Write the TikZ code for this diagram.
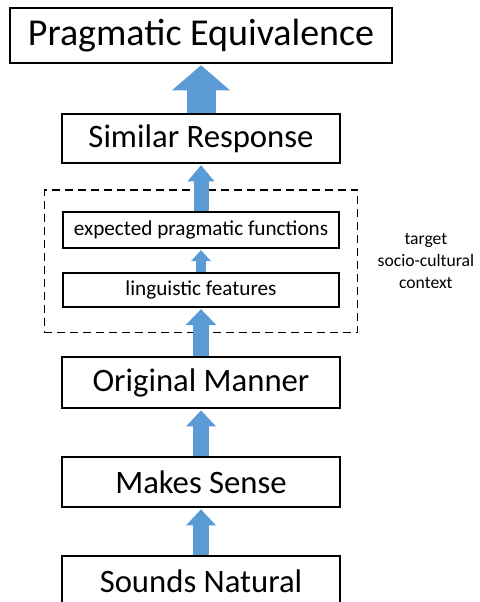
\documentclass[tikz,border=0pt]{standalone}
\usepackage{fontspec}
\setmainfont{Carlito}
\usetikzlibrary{positioning, arrows.meta, fit}
\definecolor{arrowblue}{RGB}{91,155,213}
\tikzset{
    x=1pt, y=1pt, % one unit is one point
    box/.style={draw, line width=1.8pt, minimum width=278pt, inner sep=0pt, font=\fontsize{32.7}{38}\selectfont}, % the big boxes
    smallbox/.style={draw, line width=1.5pt, minimum width=276pt, inner sep=0pt, font=\fontsize{21.2}{25}\selectfont}, % boxes inside the dashed frame
    dashbox/.style={draw, dashed, dash pattern=on 8pt off 5pt, line width=1.4pt, inner xsep=18pt, inner ysep=23pt}, % the dashed frame
    blockarrow/.style n args={3}{draw=arrowblue, line width=#1, -{Triangle[length=#3, width=#2, line width=0pt, fill=arrowblue]}, shorten >=1.5pt}, % shaft width, head width, head length
}

\begin{document}
\begin{tikzpicture}
    \useasboundingbox (0,0) rectangle (479,602);
    \node[box, minimum height=50pt] (sn) at (201,21) {Sounds Natural};
    \node[box, minimum height=50pt, above=47.2pt of sn] (ms) {Makes Sense};
    \node[box, minimum height=51pt, above=47.2pt of ms] (om) {Original Manner};
    \node[smallbox, minimum height=34pt, above=48.4pt of om] (lf) {linguistic features};
    \node[smallbox, minimum height=36pt, above=23.5pt of lf] (epf) {expected pragmatic functions};
    \node[box, minimum height=49pt, above=47.4pt of epf] (sr) {Similar Response};
    \node[box, minimum width=382pt, minimum height=55pt, above=49.2pt of sr, font=\fontsize{38}{44}\selectfont] (pe) {Pragmatic Equivalence};
    \node[dashbox, fit=(epf)(lf), yshift=-2pt] (frame) {};
    \node[right=17pt of frame, inner sep=2pt, align=center, font=\fontsize{17.6}{22}\selectfont] (ctx) {target\\socio-cultural\\context};
    \draw
    (sn) edge[blockarrow={16pt}{30pt}{16pt}] (ms)
    (ms) edge[blockarrow={16pt}{30pt}{16pt}] (om)
    (om) edge[blockarrow={16pt}{31pt}{16pt}] (lf)
    (lf) edge[blockarrow={10pt}{20pt}{11pt}] (epf)
    (epf) edge[blockarrow={15pt}{27pt}{16pt}] (sr)
    (sr) edge[blockarrow={29pt}{58pt}{25pt}] (pe);
\end{tikzpicture}
\end{document}
